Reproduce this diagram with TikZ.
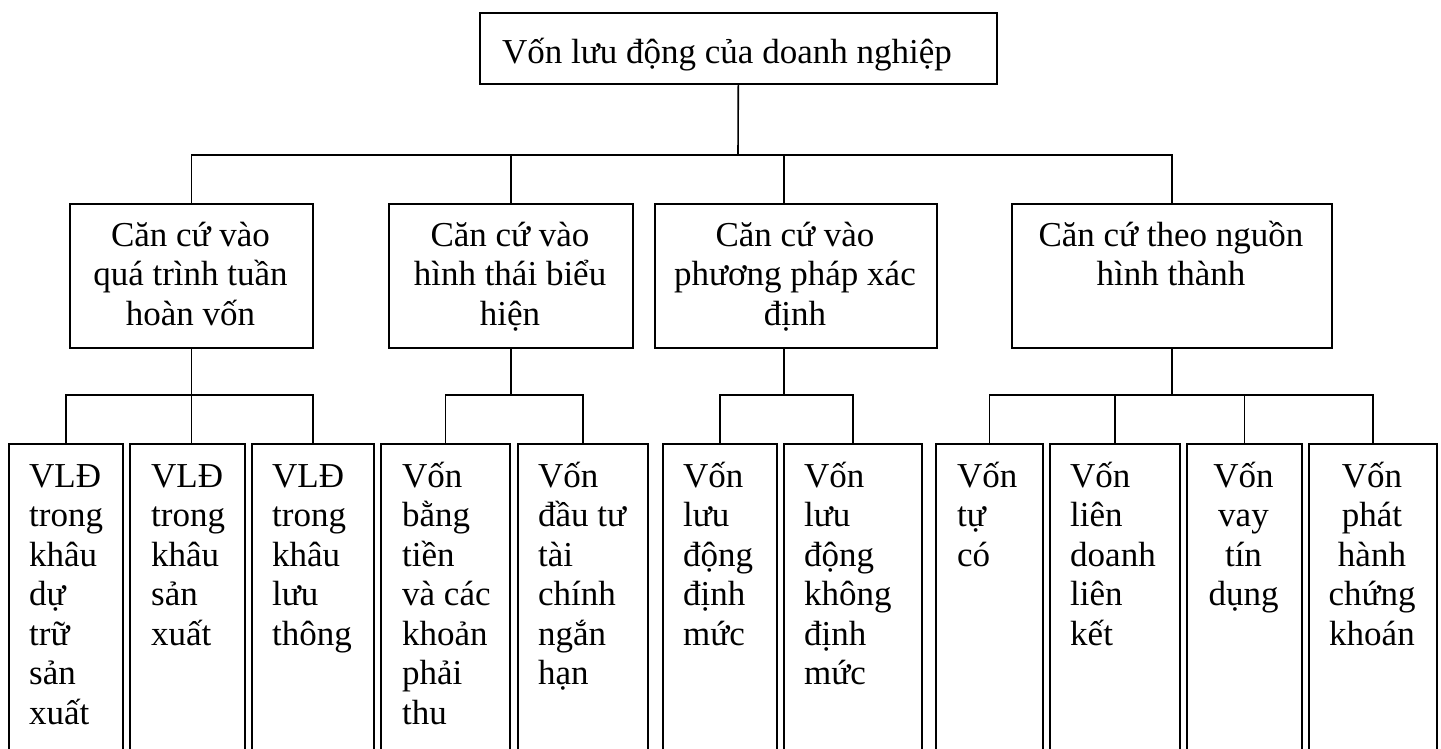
\documentclass[tikz,border=0pt]{standalone}
\usepackage{fontspec}
\setmainfont{Liberation Serif}
\newcommand\chartfont{\fontsize{35}{39.5}\selectfont}
\newcommand\firstline{\rule{0pt}{32pt}}
\tikzset{
  box/.style={draw, line width=1.6pt, inner sep=0pt, anchor=north west},
  label text/.style={inner sep=0pt, font=\chartfont},
  link/.style={line width=1.6pt},
}
\begin{document}
\begin{tikzpicture}[x=1pt,y=-1pt]
\clip (0,0) rectangle (1441,749);

% root
\node[box, minimum width=517pt, minimum height=71pt] (top) at (479,12) {};
\node[label text, anchor=north west] (toptext) at (502,31) {\firstline Vốn lưu động của doanh nghiệp};

% criteria
\node[box, minimum width=243pt, minimum height=144pt] (c1) at (69,203) {};
\node[box, minimum width=244pt, minimum height=144pt] (c2) at (388,203) {};
\node[box, minimum width=282pt, minimum height=144pt] (c3) at (654,203) {};
\node[box, minimum width=320pt, minimum height=144pt] (c4) at (1011,203) {};
\node[label text, anchor=north, align=center] (c1t) at (190.5,214) {\firstline Căn cứ vào\\quá trình tuần\\hoàn vốn};
\node[label text, anchor=north, align=center] (c2t) at (510,214) {\firstline Căn cứ vào\\hình thái biểu\\hiện};
\node[label text, anchor=north, align=center] (c3t) at (795,214) {\firstline Căn cứ vào\\phương pháp xác\\định};
\node[label text, anchor=north, align=center] (c4t) at (1171,214) {\firstline Căn cứ theo nguồn\\hình thành};

% kinds of working capital
\node[box, minimum width=114pt, minimum height=330pt] (l1) at (8,443) {};
\node[box, minimum width=115pt, minimum height=330pt] (l2) at (129,443) {};
\node[box, minimum width=122pt, minimum height=330pt] (l3) at (251,443) {};
\node[box, minimum width=129pt, minimum height=330pt] (l4) at (380,443) {};
\node[box, minimum width=130pt, minimum height=330pt] (l5) at (517,443) {};
\node[box, minimum width=114pt, minimum height=330pt] (l6) at (662,443) {};
\node[box, minimum width=138pt, minimum height=330pt] (l7) at (783,443) {};
\node[box, minimum width=107pt, minimum height=330pt] (l8) at (935,443) {};
\node[box, minimum width=130pt, minimum height=330pt] (l9) at (1049,443) {};
\node[box, minimum width=115pt, minimum height=330pt] (l10) at (1186,443) {};
\node[box, minimum width=128pt, minimum height=330pt] (l11) at (1308,443) {};

\node[label text, anchor=north west, align=left] (l1t) at (29,455) {\firstline VLĐ\\trong\\khâu\\dự\\trữ\\sản\\xuất};
\node[label text, anchor=north west, align=left] (l2t) at (151,455) {\firstline VLĐ\\trong\\khâu\\sản\\xuất};
\node[label text, anchor=north west, align=left] (l3t) at (272,455) {\firstline VLĐ\\trong\\khâu\\lưu\\thông};
\node[label text, anchor=north west, align=left] (l4t) at (402,455) {\firstline Vốn\\bằng\\tiền\\và các\\khoản\\phải\\thu};
\node[label text, anchor=north west, align=left] (l5t) at (538,455) {\firstline Vốn\\đầu tư\\tài\\chính\\ngắn\\hạn};
\node[label text, anchor=north west, align=left] (l6t) at (683,455) {\firstline Vốn\\lưu\\động\\định\\mức};
\node[label text, anchor=north west, align=left] (l7t) at (804,455) {\firstline Vốn\\lưu\\động\\không\\định\\mức};
\node[label text, anchor=north west, align=left] (l8t) at (957,455) {\firstline Vốn\\tự\\có};
\node[label text, anchor=north west, align=left] (l9t) at (1070,455) {\firstline Vốn\\liên\\doanh\\liên\\kết};
\node[label text, anchor=north, align=center] (l10t) at (1243.5,455) {\firstline Vốn\\vay\\tín\\dụng};
\node[label text, anchor=north, align=center] (l11t) at (1372,455) {\firstline Vốn\\phát\\hành\\chứng\\khoán};

% connectors
\coordinate (j0) at (738,155);
\coordinate (busy) at (0,395);
\coordinate (k3a) at ([xshift=-12pt]c3.north);
\coordinate (k3b) at ([xshift=-12pt]c3.south);

\draw[link] (top.south) -- (j0);
\draw[link] (c1.north) |- (c4.north |- j0) -- (c4.north);
\draw[link] (c2.north) -- (c2.north |- j0);
\draw[link] (k3a) -- (k3a |- j0);

\draw[link] (c1.south) -- (c1.south |- l2.north);
\draw[link] (l1.north) |- (l3.north |- busy) -- (l3.north);

\draw[link] (c2.south) -- (c2.south |- busy);
\draw[link] (l4.north) |- (l5.north |- busy) -- (l5.north);

\draw[link] (k3b) -- (k3b |- busy);
\draw[link] (l6.north) |- (l7.north |- busy) -- (l7.north);

\draw[link] (c4.south) -- (c4.south |- busy);
\draw[link] (l8.north) |- (l11.north |- busy) -- (l11.north);
\draw[link] (l9.north) -- (l9.north |- busy);
\draw[link] (l10.north) -- (l10.north |- busy);
\end{tikzpicture}
\end{document}
